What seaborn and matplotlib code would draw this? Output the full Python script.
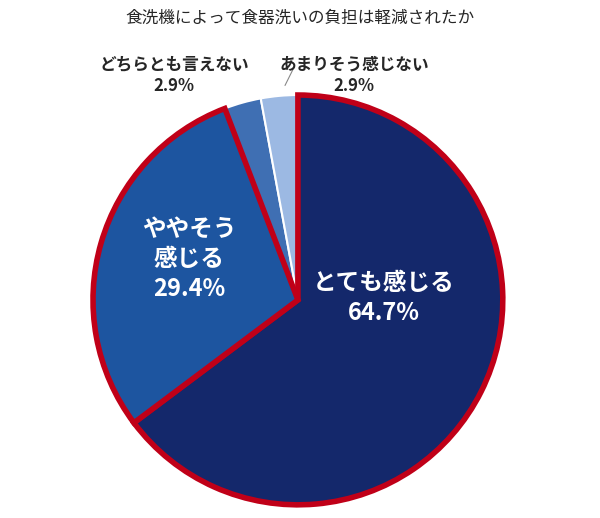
import matplotlib
matplotlib.use("Agg")
import matplotlib.pyplot as plt
import seaborn as sns

sns.set_theme(style="white")
plt.rcParams['font.family'] = ['Noto Sans CJK JP', 'DejaVu Sans']

labels = ["とても感じる", "ややそう\n感じる", "どちらとも言えない", "あまりそう感じない"]
values = [64.7, 29.4, 2.9, 2.9]
colors = ["#14286b", "#1d55a0", "#3f6fb3", "#9cb9e3"]

fig = plt.figure(figsize=(6, 5.18), dpi=100)
ax = fig.add_axes([0.155, 0.025, 0.683, 0.792])
wedges, _ = ax.pie(values, colors=colors, startangle=90, counterclock=False,
                   wedgeprops=dict(edgecolor="white", linewidth=1.5))
for i in (0, 1):
    wedges[i].set_edgecolor("#c00018")
    wedges[i].set_linewidth(4)
    wedges[i].set_joinstyle("miter")
    wedges[i].set_zorder(3)
for w in wedges:
    w.set_clip_on(False)
ax.set_xlim(-1, 1)
ax.set_ylim(-1, 1)
ax.set_aspect("equal")
ax.axis("off")

ax.text(0.42, 0.01, "とても感じる\n64.7%", color="white", fontsize=17,
        ha="center", va="center", fontweight="bold", linespacing=1.3)
ax.text(-0.53, 0.2, "ややそう\n感じる\n29.4%", color="white", fontsize=17,
        ha="center", va="center", fontweight="bold", linespacing=1.3)
fig.text(0.29, 0.855, "どちらとも言えない\n2.9%", fontsize=12, ha="center", va="center",
         fontweight="bold", linespacing=1.2)
fig.text(0.59, 0.855, "あまりそう感じない\n2.9%", fontsize=12, ha="center", va="center",
         fontweight="bold", linespacing=1.2)
fig.add_artist(plt.Line2D([0.475, 0.49], [0.835, 0.87], color="#888888", lw=0.8))
fig.text(0.5, 0.965, "食洗機によって食器洗いの負担は軽減されたか", fontsize=12,
         ha="center", va="center")
fig.savefig("out.png", dpi=100, facecolor="white")
